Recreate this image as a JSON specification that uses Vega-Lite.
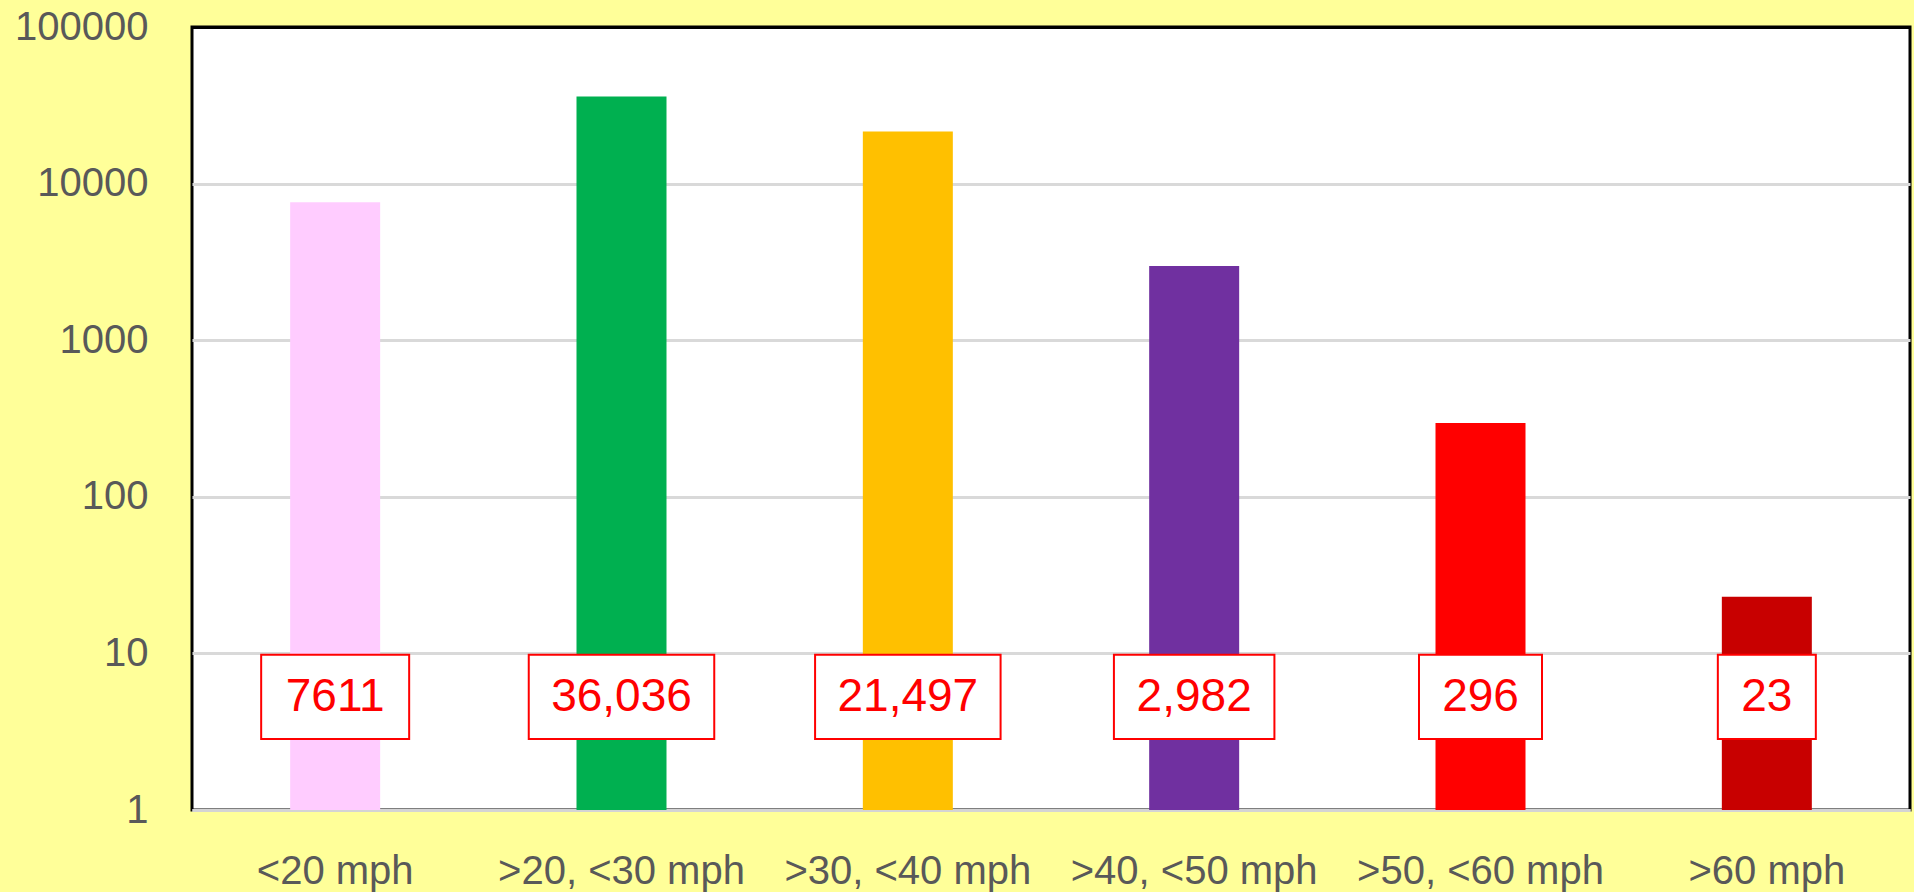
{
  "$schema": "https://vega.github.io/schema/vega-lite/v6.json",
  "autosize": "none",
  "width": 1718,
  "height": 783,
  "padding": {"left": 192, "top": 27, "right": 4, "bottom": 82},
  "background": "#FFFF99",
  "config": {
    "view": {"fill": "#FFFFFF", "stroke": "#000000", "strokeWidth": 3},
    "font": "Liberation Sans"
  },
  "data": {
    "values": [
      {"cat": "<20 mph", "count": 7611, "label": "7611"},
      {"cat": ">20, <30 mph", "count": 36036, "label": "36,036"},
      {"cat": ">30, <40 mph", "count": 21497, "label": "21,497"},
      {"cat": ">40, <50 mph", "count": 2982, "label": "2,982"},
      {"cat": ">50, <60 mph", "count": 296, "label": "296"},
      {"cat": ">60 mph", "count": 23, "label": "23"}
    ]
  },
  "encoding": {
    "x": {
      "field": "cat",
      "type": "nominal",
      "sort": null,
      "scale": {"paddingInner": 0, "paddingOuter": 0},
      "axis": {
        "title": null,
        "labelAngle": 0,
        "labelFont": "Liberation Sans",
        "labelFontSize": 40,
        "labelColor": "#595959",
        "labelPadding": 41,
        "labelLimit": 0,
        "ticks": false,
        "domainColor": "#D4D4D4",
        "domainWidth": 3,
        "grid": false
      }
    }
  },
  "layer": [
    {
      "mark": {"type": "bar", "width": 90},
      "encoding": {
        "y": {
          "field": "count",
          "type": "quantitative",
          "stack": null,
          "scale": {"type": "log", "domain": [1, 100000], "nice": false},
          "axis": {
            "title": null,
            "values": [1, 10, 100, 1000, 10000, 100000],
            "format": "d",
            "labelFont": "Liberation Sans",
            "labelFontSize": 40,
            "labelColor": "#595959",
            "labelPadding": 44,
            "ticks": false,
            "domain": false,
            "grid": true,
            "gridColor": {"condition": {"test": "datum.value >= 100000", "value": "#000000"}, "value": "#D9D9D9"},
            "gridWidth": 3
          }
        },
        "color": {
          "field": "cat",
          "type": "nominal",
          "sort": null,
          "scale": {
            "domain": ["<20 mph", ">20, <30 mph", ">30, <40 mph", ">40, <50 mph", ">50, <60 mph", ">60 mph"],
            "range": ["#FFCCFF", "#00B050", "#FFC000", "#7030A0", "#FF0000", "#C80000"]
          },
          "legend": null
        }
      }
    },
    {
      "mark": {
        "type": "bar",
        "fill": "#FFFFFF",
        "stroke": "#FF0000",
        "strokeWidth": 2,
        "width": {"expr": "25*length(replace(datum.label, ',', '')) + 12.5*(length(datum.label) - length(replace(datum.label, ',', ''))) + 48"}
      },
      "encoding": {
        "y": {"datum": 9.8},
        "y2": {"datum": 2.84}
      }
    },
    {
      "mark": {
        "type": "text",
        "font": "Liberation Sans",
        "fontSize": 46,
        "color": "#FF0000",
        "baseline": "middle",
        "align": "center"
      },
      "encoding": {
        "y": {"datum": 5.3},
        "text": {"field": "label"}
      }
    }
  ]
}
